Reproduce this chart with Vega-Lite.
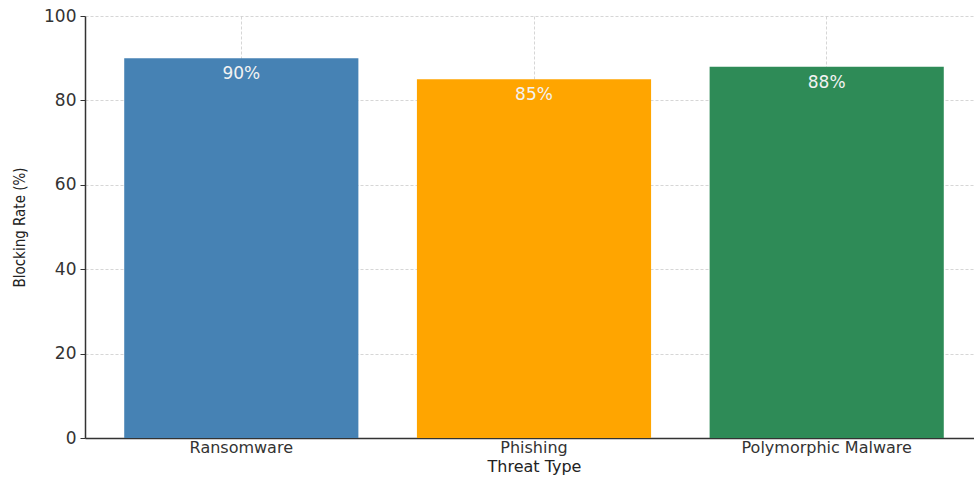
{
  "$schema": "https://vega.github.io/schema/vega-lite/v6.json",
  "autosize": {"type": "none"},
  "padding": {"left": 85, "top": 16, "right": 0, "bottom": 40},
  "width": 898,
  "height": 422,
  "background": "white",
  "data": {"values": [
    {"threat": "Ransomware", "rate": 90, "label": "90%"},
    {"threat": "Phishing", "rate": 85, "label": "85%"},
    {"threat": "Polymorphic Malware", "rate": 88, "label": "88%"}
  ]},
  "config": {
    "view": {"stroke": null},
    "font": "DejaVu Sans",
    "axis": {
      "zindex": 1,
      "grid": true,
      "gridColor": "#cccccc",
      "gridDash": [3, 2],
      "gridOpacity": 0.8,
      "gridWidth": 1,
      "domainColor": "#333333",
      "domainWidth": 1.5,
      "tickColor": "#333333",
      "labelFont": "DejaVu Sans",
      "labelFontSize": 17,
      "labelColor": "#333333",
      "labelLimit": 0,
      "titleFont": "DejaVu Sans",
      "titleFontWeight": "normal",
      "titleColor": "#222222"
    }
  },
  "layer": [
    {
      "mark": {"type": "bar"},
      "encoding": {
        "x": {
          "field": "threat", "type": "nominal", "sort": null,
          "scale": {"paddingInner": 0.2, "paddingOuter": 0.134},
          "axis": {"labelAngle": 0, "labelFontSize": 16, "title": "Threat Type", "titleFontSize": 16, "titlePadding": 3, "labelPadding": 5, "tickSize": -4, "tickWidth": 1.5}
        },
        "y": {
          "field": "rate", "type": "quantitative",
          "scale": {"domain": [0, 100], "nice": false},
          "axis": {"values": [0, 20, 40, 60, 80, 100], "title": "Blocking Rate (%)", "titleFont": "DejaVu Sans Condensed", "titleFontSize": 15, "titlePadding": 16, "labelPadding": 4, "tickSize": 5}
        },
        "color": {
          "field": "threat", "type": "nominal", "sort": null,
          "scale": {"domain": ["Ransomware", "Phishing", "Polymorphic Malware"], "range": ["#4682B4", "#FFA500", "#2E8B57"]},
          "legend": null
        }
      }
    },
    {
      "mark": {"type": "text", "dy": 16, "baseline": "middle", "align": "center", "color": "#f2f2f2", "fontSize": 17, "font": "DejaVu Sans"},
      "encoding": {
        "x": {"field": "threat", "type": "nominal", "sort": null},
        "y": {"field": "rate", "type": "quantitative"},
        "text": {"field": "label"}
      }
    }
  ]
}
